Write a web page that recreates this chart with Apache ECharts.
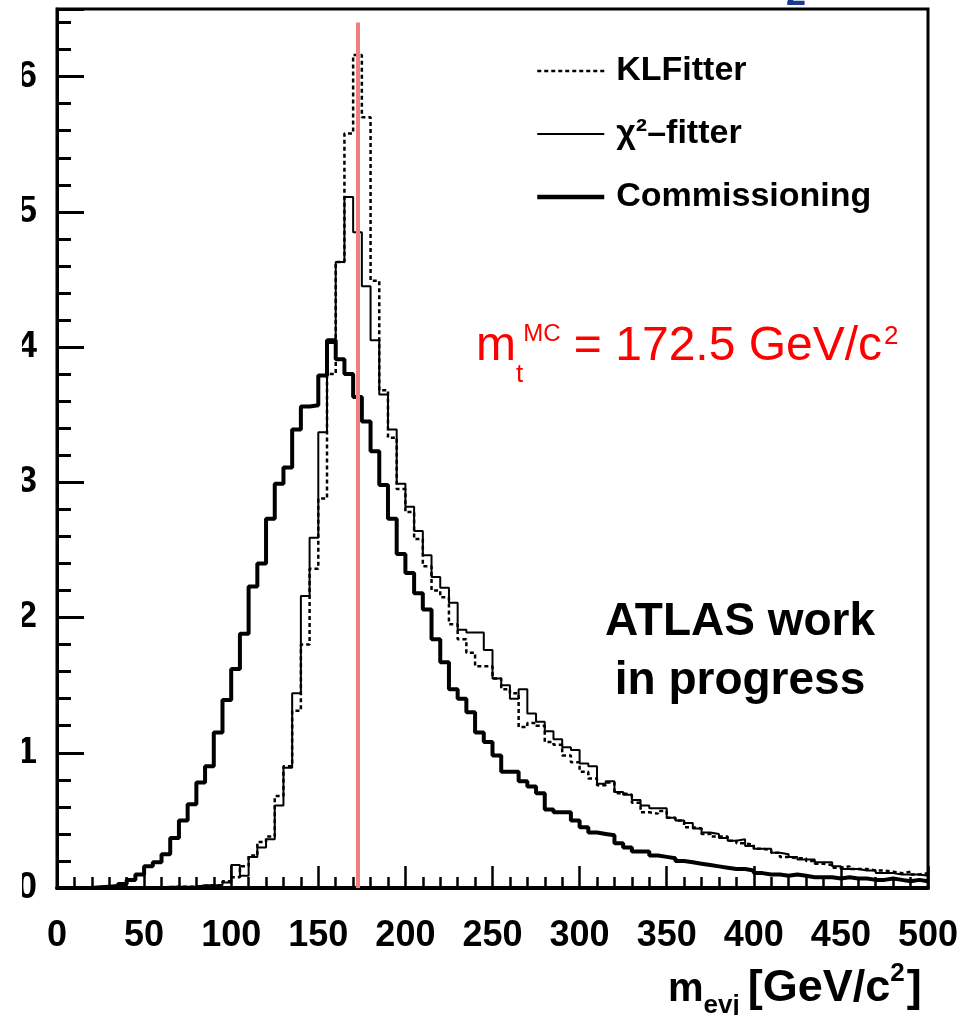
<!DOCTYPE html>
<html>
<head>
<meta charset="utf-8">
<script src="https://cdn.jsdelivr.net/npm/echarts@6/dist/echarts.min.js"></script>
<style>
  html, body { margin: 0; padding: 0; background: #fff; }
  #chart { width: 974px; height: 1015px; }
</style>
</head>
<body>
<div id="chart"></div>
<script>
// histogram bins: 0..500 GeV, 5 GeV wide, value per bin (left edge = index * 5)
const binWidth = 5;
const xTicks = [0, 50, 100, 150, 200, 250, 300, 350, 400, 450, 500];
const yTicks = [0, 1, 2, 3, 4, 5, 6];

const klfitter = [
  0, 0, 0, 0, 0, 0, 0, 0, 0, 0,
  0, 0, 0.005, 0.01, 0.01, 0.01, 0.015, 0.02, 0.02, 0.05,
  0.08, 0.16, 0.24, 0.34, 0.38, 0.68, 0.90, 1.31, 1.80, 2.36,
  2.88, 3.80, 4.63, 5.58, 6.16, 5.70, 4.49, 3.68, 3.33, 2.95,
  2.78, 2.58, 2.38, 2.20, 2.15, 1.95, 1.84, 1.74, 1.64, 1.64,
  1.55, 1.47, 1.44, 1.19, 1.22, 1.20, 1.08, 1.06, 0.98, 0.93,
  0.86, 0.81, 0.76, 0.78, 0.70, 0.69, 0.63, 0.56, 0.55, 0.57,
  0.52, 0.50, 0.45, 0.44, 0.40, 0.38, 0.38, 0.35, 0.33, 0.32,
  0.29, 0.28, 0.26, 0.23, 0.22, 0.22, 0.20, 0.18, 0.17, 0.15,
  0.16, 0.14, 0.14, 0.13, 0.13, 0.12, 0.11, 0.12, 0.10, 0.11
];

const chi2fitter = [
  0, 0, 0, 0, 0, 0, 0, 0, 0, 0,
  0, 0.005, 0.01, 0.01, 0.01, 0.01, 0.02, 0.02, 0.02, 0.04,
  0.17, 0.09, 0.23, 0.30, 0.36, 0.61, 0.89, 1.44, 2.16, 2.59,
  3.37, 4.03, 4.63, 5.11, 4.85, 4.45, 4.05, 3.65, 3.39, 2.99,
  2.82, 2.64, 2.46, 2.30, 2.22, 2.11, 1.91, 1.89, 1.89, 1.76,
  1.55, 1.50, 1.40, 1.47, 1.29, 1.23, 1.16, 1.10, 1.04, 1.02,
  0.92, 0.90, 0.77, 0.79, 0.71, 0.69, 0.65, 0.61, 0.59, 0.59,
  0.52, 0.50, 0.48, 0.44, 0.41, 0.40, 0.37, 0.35, 0.36, 0.31,
  0.29, 0.29, 0.26, 0.25, 0.23, 0.21, 0.21, 0.19, 0.19, 0.16,
  0.14, 0.14, 0.13, 0.13, 0.11, 0.11, 0.10, 0.10, 0.10, 0.09
];

const commissioning = [
  0, 0, 0, 0, 0.005, 0.01, 0.015, 0.03, 0.06, 0.10,
  0.16, 0.19, 0.25, 0.37, 0.50, 0.62, 0.78, 0.90, 1.15, 1.39,
  1.62, 1.88, 2.23, 2.40, 2.73, 2.99, 3.11, 3.39, 3.56, 3.57,
  3.79, 4.05, 3.91, 3.80, 3.63, 3.45, 3.23, 2.98, 2.73, 2.47,
  2.33, 2.18, 2.06, 1.84, 1.67, 1.47, 1.40, 1.30, 1.15, 1.08,
  0.98, 0.86, 0.86, 0.79, 0.75, 0.70, 0.58, 0.56, 0.56, 0.50,
  0.45, 0.41, 0.40, 0.39, 0.33, 0.30, 0.27, 0.27, 0.24, 0.23,
  0.22, 0.20, 0.19, 0.18, 0.17, 0.16, 0.15, 0.14, 0.14, 0.13,
  0.11, 0.10, 0.10, 0.09, 0.10, 0.09, 0.08, 0.08, 0.08, 0.07,
  0.08, 0.07, 0.07, 0.06, 0.06, 0.07, 0.06, 0.05, 0.06, 0.05
];

const topMass = 172.5;

const FONT = "'Liberation Sans', Arial, sans-serif";

// left edges + closing point so step:'end' draws every bin as a flat top
function histData(vals) {
  const d = vals.map((v, i) => [i * binWidth, v]);
  d.push([vals.length * binWidth, vals[vals.length - 1]]);
  return d;
}

// lay out a run of text pieces (sub/superscripts) on a common baseline
const measureCtx = document.createElement("canvas").getContext("2d");
function textRun(pieces, x0, baseline, color, weight) {
  let x = x0;
  return pieces.map((p) => {
    measureCtx.font = `${weight} ${p.size}px 'Liberation Sans'`;
    const el = {
      type: "text",
      x: x,
      y: baseline + (p.dy || 0) - 0.34 * p.size,
      z: 100,
      style: {
        text: p.text,
        fontFamily: FONT,
        fontSize: p.size,
        fontWeight: weight,
        fill: color,
        align: "left",
        verticalAlign: "middle",
      },
    };
    x += measureCtx.measureText(p.text).width + (p.gap || 0);
    return el;
  });
}

const chart = echarts.init(document.getElementById("chart"));

const option = {
  animation: false,
  backgroundColor: "#fff",
  grid: {
    left: 57,
    top: 9,
    width: 871,
    height: 879,
    show: true,
    borderColor: "#000",
    borderWidth: 3,
  },
  legend: {
    orient: "vertical",
    left: 535,
    top: 51,
    padding: 0,
    itemWidth: 67,
    itemHeight: 14,
    itemGap: 23,
    selectedMode: false,
    itemStyle: { opacity: 0 },
    data: [
      { name: "KLFitter", lineStyle: { color: "#000", width: 2.5, type: [4, 3] } },
      { name: "χ²–fitter", lineStyle: { color: "#000", width: 2 } },
      { name: "Commissioning", lineStyle: { color: "#000", width: 4.5 } },
    ],
    textStyle: {
      fontFamily: FONT,
      fontSize: 34,
      fontWeight: "bold",
      color: "#000",
      lineHeight: 40,
      padding: [0, 0, 0, 7],
    },
  },
  xAxis: {
    type: "value",
    min: xTicks[0],
    max: xTicks[xTicks.length - 1],
    interval: 50,
    axisLine: { lineStyle: { color: "#000", width: 4 } },
    axisTick: { inside: true, length: 22, lineStyle: { color: "#000", width: 2.5 } },
    minorTick: { show: true, splitNumber: 5, length: 11, lineStyle: { color: "#000", width: 2.5 } },
    splitLine: { show: false },
    axisLabel: {
      margin: 30,
      fontFamily: FONT,
      fontSize: 36,
      fontWeight: "bold",
      color: "#000",
      showMinLabel: true,
      showMaxLabel: true,
    },
  },
  yAxis: {
    type: "value",
    min: 0,
    max: 6.5,
    interval: 1,
    axisLine: { show: true, lineStyle: { color: "#000", width: 3 } },
    axisTick: { inside: true, length: 27, lineStyle: { color: "#000", width: 3 } },
    minorTick: { show: true, splitNumber: 5, length: 14, lineStyle: { color: "#000", width: 3 } },
    splitLine: { show: false },
    axisLabel: {
      margin: 20,
      fontFamily: FONT,
      fontSize: 36,
      fontWeight: "bold",
      color: "#000",
      formatter: (v) => (yTicks.includes(v) ? String(v) : ""),
    },
  },
  series: [
    {
      name: "KLFitter",
      type: "line",
      step: "end",
      symbol: "none",
      data: histData(klfitter),
      itemStyle: { color: "#000" },
      lineStyle: { color: "#000", width: 2.5, type: [4, 3] },
      z: 2,
    },
    {
      name: "χ²–fitter",
      type: "line",
      step: "end",
      symbol: "none",
      data: histData(chi2fitter),
      itemStyle: { color: "#000" },
      lineStyle: { color: "#000", width: 2 },
      z: 3,
    },
    {
      name: "Commissioning",
      type: "line",
      step: "end",
      symbol: "none",
      data: histData(commissioning),
      itemStyle: { color: "#000" },
      lineStyle: { color: "#000", width: 4 },
      z: 4,
      markLine: {
        silent: true,
        symbol: "none",
        label: { show: false },
        lineStyle: { color: "#f08080", width: 4, type: "solid" },
        data: [[{ coord: [topMass, 0] }, { coord: [topMass, 6.4] }]],
      },
    },
  ],
  graphic: [
    // white strip that crops the y labels as in the original slide
    { type: "rect", left: 0, top: 0, z: 100, shape: { width: 22, height: 1015 }, style: { fill: "#fff" } },
    // fragment of the slide title peeking in at the top
    { type: "text", x: 796, y: 7 - 0.34 * 36, z: 100, style: { text: "2", fontFamily: FONT, fontSize: 36, fontWeight: "bold", fill: "#1d3c8f", align: "center", verticalAlign: "middle" } },
    // ATLAS label
    { type: "text", x: 740, y: 638 - 0.34 * 46, z: 100, style: { text: "ATLAS work", fontFamily: FONT, fontSize: 46, fontWeight: "bold", fill: "#000", align: "center", verticalAlign: "middle" } },
    { type: "text", x: 740, y: 697 - 0.34 * 46, z: 100, style: { text: "in progress", fontFamily: FONT, fontSize: 46, fontWeight: "bold", fill: "#000", align: "center", verticalAlign: "middle" } },
    // m_t^MC = 172.5 GeV/c^2
    ...textRun([
      { text: "m", size: 48 },
      { text: "t", size: 26, dy: 21 },
      { text: "MC", size: 24, dy: -20 },
      { text: " = 172.5 GeV/c", size: 48, gap: 2 },
      { text: "2", size: 26, dy: -17 },
    ], 476, 363, "#ff0000", "normal"),
    // x axis title m_evj [GeV/c^2]
    ...textRun([
      { text: "m", size: 40 },
      { text: "evj", size: 26, dy: 11, gap: 8 },
      { text: "[GeV/c", size: 45 },
      { text: "2", size: 26, dy: -21, gap: 2 },
      { text: "]", size: 45 },
    ], 668, 1004, "#000", "bold"),
  ],
};

chart.setOption(option);
</script>
</body>
</html>
